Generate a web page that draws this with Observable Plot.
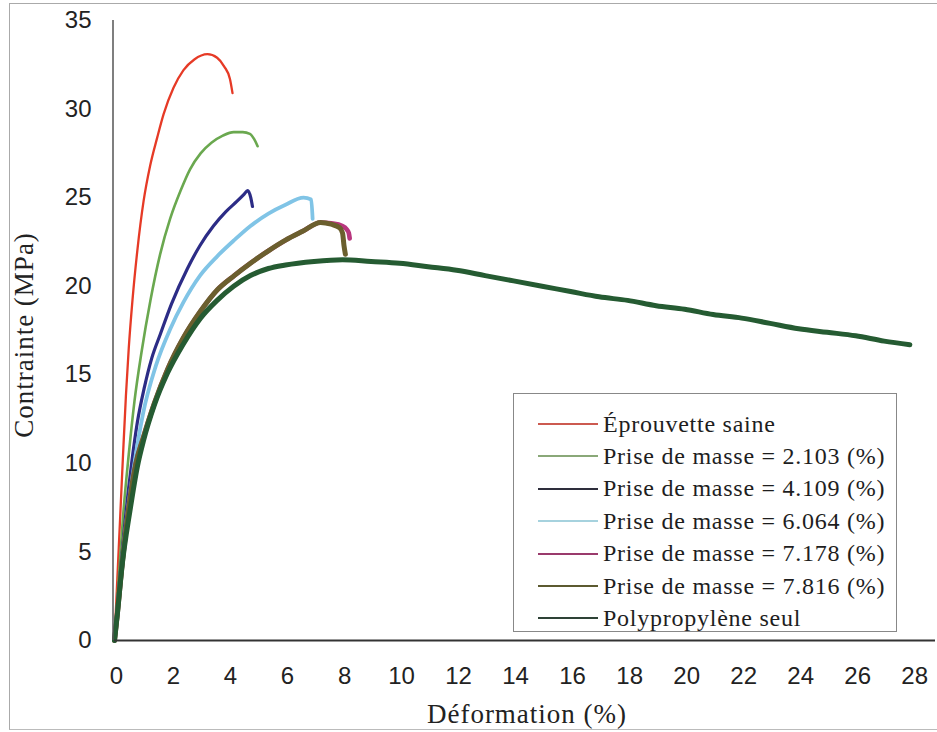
<!DOCTYPE html>
<html>
<head>
<meta charset="utf-8">
<script src="https://cdn.jsdelivr.net/npm/d3@7"></script>
<script src="https://cdn.jsdelivr.net/npm/@observablehq/plot@0.6"></script>
<style>
  body { margin: 0; background: #fff; }
  #wrap { position: relative; width: 937px; height: 732px; overflow: hidden; }
  #frame { position: absolute; left: 9px; top: 3px; width: 940px; height: 727px; border-left: 1px solid #aaa; border-top: 1px solid #aaa; border-bottom: 1px solid #bbb; box-sizing: border-box; }
  .title { position: absolute; font-family: "Liberation Serif", "Times New Roman", serif; font-size: 27px; letter-spacing: 1px; color: #222; white-space: nowrap; }
  #legend { position: absolute; left: 513px; top: 393px; width: 384px; height: 239px; border: 1px solid #888; box-sizing: border-box; background: #fff; font-family: "Liberation Serif", "Times New Roman", serif; font-size: 24px; letter-spacing: 0.75px; color: #1e1e1e; }
  .item { position: absolute; left: 24px; height: 30px; display: flex; align-items: center; white-space: nowrap; }
  .swatch { width: 60px; height: 0; border-top: 2px solid; margin-right: 5px; }
</style>
</head>
<body>
<div id="wrap">
  <div id="frame"></div>
  <div id="chart"></div>
  <div class="title" style="left:24px; top:335px; transform: translate(-50%,-50%) rotate(-90deg);">Contrainte (MPa)</div>
  <div class="title" style="left:527px; top:714px; transform: translate(-50%,-50%);">Déformation (%)</div>
  <div id="legend"></div>
</div>
<script>
// Series names and colours
const seriesNames = [
  "Éprouvette saine",
  "Prise de masse = 2.103 (%)",
  "Prise de masse = 4.109 (%)",
  "Prise de masse = 6.064 (%)",
  "Prise de masse = 7.178 (%)",
  "Prise de masse = 7.816 (%)",
  "Polypropylène seul"
];
const seriesColors = ["#e63a26", "#6aa84f", "#2c2c86", "#80c4e6", "#b8367e", "#6b5f2e", "#255b32"];
const legendColors = ["#cc5a50", "#8aa878", "#2e2e3c", "#a6d2de", "#9a3a6c", "#5c5a30", "#2e4236"];
const strokeWidths = [2.3, 2.6, 3.2, 3.8, 4.6, 5, 5];

// Strain (%) and stress (MPa)
const strainSaine = [0, 0.1, 0.2, 0.3, 0.4, 0.5, 0.63, 0.8, 1.02, 1.25, 1.5, 1.72, 2.07, 2.42, 2.8, 3.26, 3.6, 3.85, 4.05, 4.14];
const stressSaine = [0, 3.5, 7, 10.5, 13.8, 16.5, 19.2, 22, 24.8, 26.8, 28.4, 29.7, 31.2, 32.2, 32.8, 33.1, 32.9, 32.4, 31.7, 30.9];

const strain2103 = [0, 0.15, 0.3, 0.5, 0.7, 0.95, 1.26, 1.6, 1.95, 2.32, 2.65, 3.02, 3.4, 3.8, 4.18, 4.5, 4.75, 4.9, 5.02];
const stress2103 = [0, 3.5, 7, 10.5, 13.5, 16.3, 19.2, 21.8, 23.8, 25.4, 26.6, 27.5, 28.1, 28.5, 28.7, 28.7, 28.6, 28.3, 27.9];

const strain4109 = [0, 0.2, 0.4, 0.6, 0.8, 1.05, 1.3, 1.61, 2.0, 2.56, 3.0, 3.47, 3.9, 4.3, 4.55, 4.67, 4.78, 4.84];
const stress4109 = [0, 3.8, 7.2, 10, 12.3, 14.3, 15.9, 17.3, 19.0, 21.0, 22.3, 23.4, 24.2, 24.8, 25.2, 25.4, 25.0, 24.5];

const strain6064 = [0, 0.2, 0.4, 0.7, 1.0, 1.45, 1.96, 2.42, 3.0, 3.61, 4.2, 4.77, 5.4, 6.0, 6.63, 6.9, 6.95];
const stress6064 = [0, 3.5, 6.5, 10, 12.8, 15.5, 17.6, 19.1, 20.6, 21.7, 22.6, 23.4, 24.1, 24.6, 25.0, 24.9, 23.8];

const strain7178 = [0, 0.1, 0.25, 0.5, 0.75, 1.0, 1.4, 1.86, 2.42, 3.02, 3.61, 4.2, 4.77, 5.4, 6.0, 6.6, 7.23, 7.6, 8.0, 8.15, 8.22, 8.25];
const stress7178 = [0, 1.5, 4, 7.5, 10, 11.4, 13.4, 15.3, 17.1, 18.6, 19.8, 20.6, 21.3, 22.0, 22.6, 23.1, 23.6, 23.55, 23.4, 23.2, 23.0, 22.7];

const strain7816 = [0, 0.1, 0.25, 0.5, 0.75, 1.0, 1.4, 1.86, 2.42, 3.02, 3.61, 4.2, 4.77, 5.4, 6.0, 6.6, 7.23, 7.6, 7.9, 8.0, 8.05, 8.1];
const stress7816 = [0, 1.5, 4, 7.5, 10, 11.4, 13.4, 15.3, 17.1, 18.6, 19.8, 20.6, 21.3, 22.0, 22.6, 23.1, 23.6, 23.5, 23.3, 23.0, 22.3, 21.8];

const strainPP = [0, 0.1, 0.25, 0.56, 0.8, 1.02, 1.4, 1.86, 2.4, 3.02, 3.6, 4.18, 4.77, 5.4, 6.0, 7.0, 8.0, 9.0, 10, 11, 12, 13, 14, 15, 16, 17, 18, 19, 20, 21, 22, 23, 24, 25, 26, 27, 27.9];
const stressPP = [0, 1.5, 4, 7.5, 9.8, 11.3, 13.3, 15.1, 16.7, 18.2, 19.2, 20.0, 20.6, 21.0, 21.2, 21.4, 21.5, 21.4, 21.3, 21.1, 20.9, 20.6, 20.3, 20.0, 19.7, 19.4, 19.2, 18.9, 18.7, 18.4, 18.2, 17.9, 17.6, 17.4, 17.2, 16.9, 16.7];

// Axis ticks
const xTicks = [0, 2, 4, 6, 8, 10, 12, 14, 16, 18, 20, 22, 24, 26, 28];
const yTicks = [0, 5, 10, 15, 20, 25, 30, 35];

const strains = [strainSaine, strain2103, strain4109, strain6064, strain7178, strain7816, strainPP];
const stresses = [stressSaine, stress2103, stress4109, stress6064, stress7178, stress7816, stressPP];

const lineMarks = seriesNames.map((name, i) => {
  const rows = strains[i].map((x, j) => ({x, y: stresses[i][j]}));
  return Plot.line(rows, {x: "x", y: "y", stroke: seriesColors[i], strokeWidth: strokeWidths[i], curve: "monotone-x", strokeLinejoin: "round", strokeLinecap: "round"});
});

const chart = Plot.plot({
  width: 937,
  height: 732,
  marginLeft: 114,
  marginRight: 2,
  marginTop: 20,
  marginBottom: 92,
  style: {background: "transparent", color: "#222", fontFamily: "'Liberation Sans', Arial, sans-serif"},
  x: {domain: [0, 28.8]},
  y: {domain: [0, 35]},
  marks: [
    ...lineMarks,
    Plot.ruleX([0], {stroke: "#555", strokeWidth: 1.5, dx: -1.5}),
    Plot.ruleY([0], {stroke: "#333", strokeWidth: 2}),
    Plot.axisX(xTicks, {tickSize: 0, tickPadding: 26, fontSize: 24, label: null, dx: 2, fill: "#222"}),
    Plot.axisY(yTicks, {tickSize: 0, tickPadding: 23, fontSize: 24, label: null, fill: "#222"})
  ]
});
document.getElementById("chart").appendChild(chart);

const legend = document.getElementById("legend");
seriesNames.forEach((name, i) => {
  const item = document.createElement("div");
  item.className = "item";
  item.style.top = (15 + i * 32.4) + "px";
  const sw = document.createElement("span");
  sw.className = "swatch";
  sw.style.borderColor = legendColors[i];
  const t = document.createElement("span");
  t.textContent = name;
  item.appendChild(sw);
  item.appendChild(t);
  legend.appendChild(item);
});
</script>
</body>
</html>
